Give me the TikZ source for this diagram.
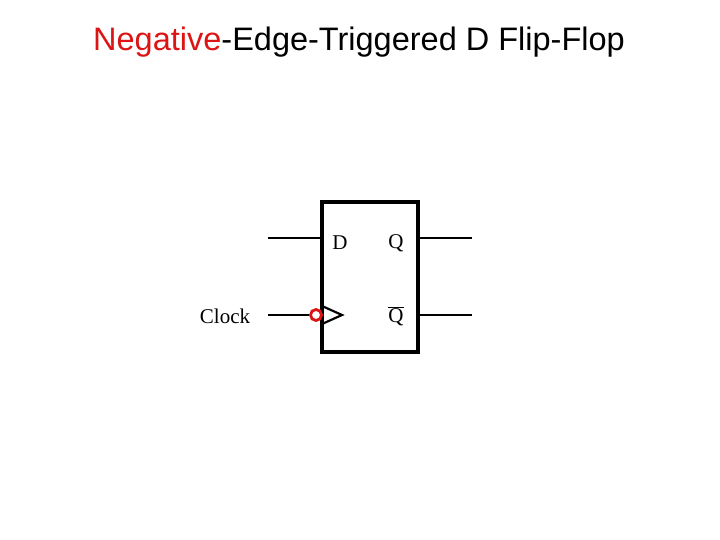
\documentclass[tikz,border=0pt]{standalone}
\usepackage{fontspec}
\setmainfont{Liberation Serif}
\newfontfamily\arialf{Liberation Sans}
\begin{document}
\begin{tikzpicture}[x=1pt,y=-1pt,
  wire/.style={line width=2.8pt},
  lbl/.style={font=\fontsize{21}{21}\selectfont, inner sep=0pt}]
\useasboundingbox (0,0) rectangle (720,540);
\node[font=\arialf\fontsize{25}{25}\selectfont, scale=1.3] (title) at (359,42) {\textcolor[RGB]{220,20,20}{Negative}-Edge-Triggered D Flip-Flop};
\node[draw, line width=3.5pt, minimum width=96pt, minimum height=150pt, inner sep=0pt] (ff) at (370,277) {};
\coordinate (din) at (268,238);
\coordinate (dff) at (322,238);
\coordinate (qff) at (418,238);
\coordinate (qout) at (472,238);
\coordinate (cin) at (268,315);
\coordinate (qbff) at (418,315);
\coordinate (qbout) at (472,315);
\draw[wire] (din) -- (dff);
\draw[wire] (qff) -- (qout);
\draw[wire] (qbff) -- (qbout);
\node[circle, draw={rgb,255:red,220;green,20;blue,20}, line width=2.8pt, minimum size=11pt, inner sep=0pt] (bub) at (316,315) {};
\draw[wire] (cin) -- (bub.west);
\draw[line width=2.2pt] (322,306) -- (342,315) -- (322,324);
\node[lbl] (D) at (340,243) {D};
\node[lbl] (Q) at (396,243) {Q};
\node[lbl] (QB) at (396,316) {$\overline{\mbox{Q}}$};
\node[lbl] (clk) at (225,316) {Clock};
\end{tikzpicture}
\end{document}
